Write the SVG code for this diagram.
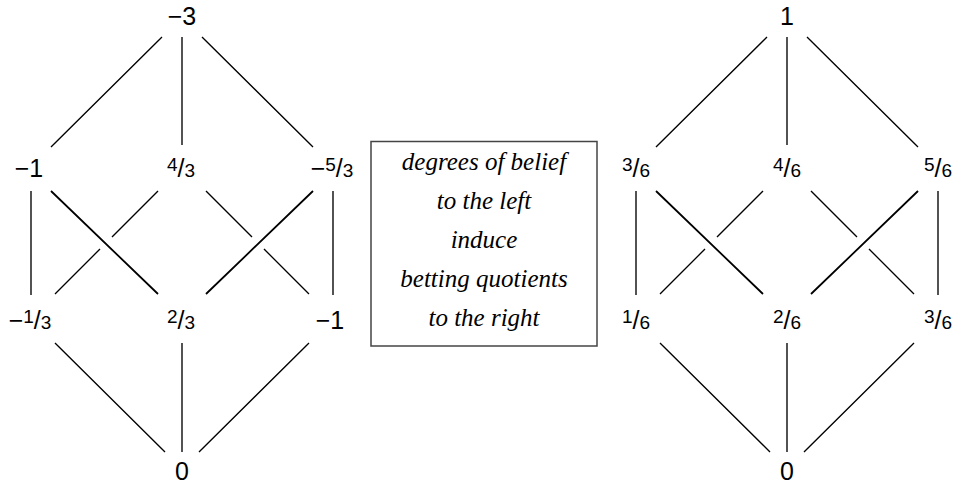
<svg xmlns="http://www.w3.org/2000/svg" width="964" height="484" viewBox="0 0 964 484">
<style>
.n{font-family:"Liberation Sans","DejaVu Sans",sans-serif;font-size:25px;fill:#000;text-anchor:middle}
.s{font-size:19px}
.t{font-family:"Liberation Serif","DejaVu Serif",serif;font-style:italic;font-size:25px;fill:#000;text-anchor:middle}
.e{stroke:#000;stroke-width:1.35;fill:none}
.o{stroke:#000;stroke-width:1.8;fill:none}
</style>
<rect width="964" height="484" fill="#fff"/>
<g id="connectors">
<g id="left-edges">
<path class="e" d="M162,37 L51,147 M182,37 L182,145 M202,37 L313,147"/>
<path class="e" d="M31,191 L31,295 M333,191 L333,295"/>
<path class="e" d="M158,191 L112,237 M100,249 L55,294"/>
<path class="e" d="M206,191 L252,237 M264,249 L309,294"/>
<path class="o" d="M51,191 L158,294 M313,191 L206,294"/>
<path class="e" d="M55,343 L165,452 M182,343 L182,452 M309,343 L199,452"/>
</g>
<g id="right-edges" transform="translate(605,0)">
<path class="e" d="M162,37 L51,147 M182,37 L182,145 M202,37 L313,147"/>
<path class="e" d="M31,191 L31,295 M333,191 L333,295"/>
<path class="e" d="M158,191 L112,237 M100,249 L55,294"/>
<path class="e" d="M206,191 L252,237 M264,249 L309,294"/>
<path class="o" d="M51,191 L158,294 M313,191 L206,294"/>
<path class="e" d="M55,343 L165,452 M182,343 L182,452 M309,343 L199,452"/>
</g>
</g>
<g id="L-top"><text class="n" x="182" y="25">−3</text></g>
<g id="L-m1"><text class="n" x="29" y="177">−1</text></g>
<g id="L-m2"><text class="n" x="181" y="177"><tspan class="s" dy="-6">4</tspan><tspan dy="6">/</tspan><tspan class="s">3</tspan></text></g>
<g id="L-m3"><text class="n" x="332" y="177">−<tspan class="s" dy="-6">5</tspan><tspan dy="6">/</tspan><tspan class="s">3</tspan></text></g>
<g id="L-b1"><text class="n" x="30" y="329">−<tspan class="s" dy="-6">1</tspan><tspan dy="6">/</tspan><tspan class="s">3</tspan></text></g>
<g id="L-b2"><text class="n" x="181" y="329"><tspan class="s" dy="-6">2</tspan><tspan dy="6">/</tspan><tspan class="s">3</tspan></text></g>
<g id="L-b3"><text class="n" x="330" y="329">−1</text></g>
<g id="L-bot"><text class="n" x="182" y="480">0</text></g>
<g id="box">
<rect x="371" y="141.5" width="226" height="204.5" fill="#fff" stroke="#444" stroke-width="1.5"/>
<text class="t" x="484" y="170">degrees of belief</text>
<text class="t" x="484" y="209">to the left</text>
<text class="t" x="484" y="248">induce</text>
<text class="t" x="484" y="287">betting quotients</text>
<text class="t" x="484" y="326">to the right</text>
</g>
<g id="R-top"><text class="n" x="787" y="25">1</text></g>
<g id="R-m1"><text class="n" x="636" y="177"><tspan class="s" dy="-6">3</tspan><tspan dy="6">/</tspan><tspan class="s">6</tspan></text></g>
<g id="R-m2"><text class="n" x="787" y="177"><tspan class="s" dy="-6">4</tspan><tspan dy="6">/</tspan><tspan class="s">6</tspan></text></g>
<g id="R-m3"><text class="n" x="938" y="177"><tspan class="s" dy="-6">5</tspan><tspan dy="6">/</tspan><tspan class="s">6</tspan></text></g>
<g id="R-b1"><text class="n" x="636" y="329"><tspan class="s" dy="-6">1</tspan><tspan dy="6">/</tspan><tspan class="s">6</tspan></text></g>
<g id="R-b2"><text class="n" x="787" y="329"><tspan class="s" dy="-6">2</tspan><tspan dy="6">/</tspan><tspan class="s">6</tspan></text></g>
<g id="R-b3"><text class="n" x="938" y="329"><tspan class="s" dy="-6">3</tspan><tspan dy="6">/</tspan><tspan class="s">6</tspan></text></g>
<g id="R-bot"><text class="n" x="787" y="480">0</text></g>
</svg>
